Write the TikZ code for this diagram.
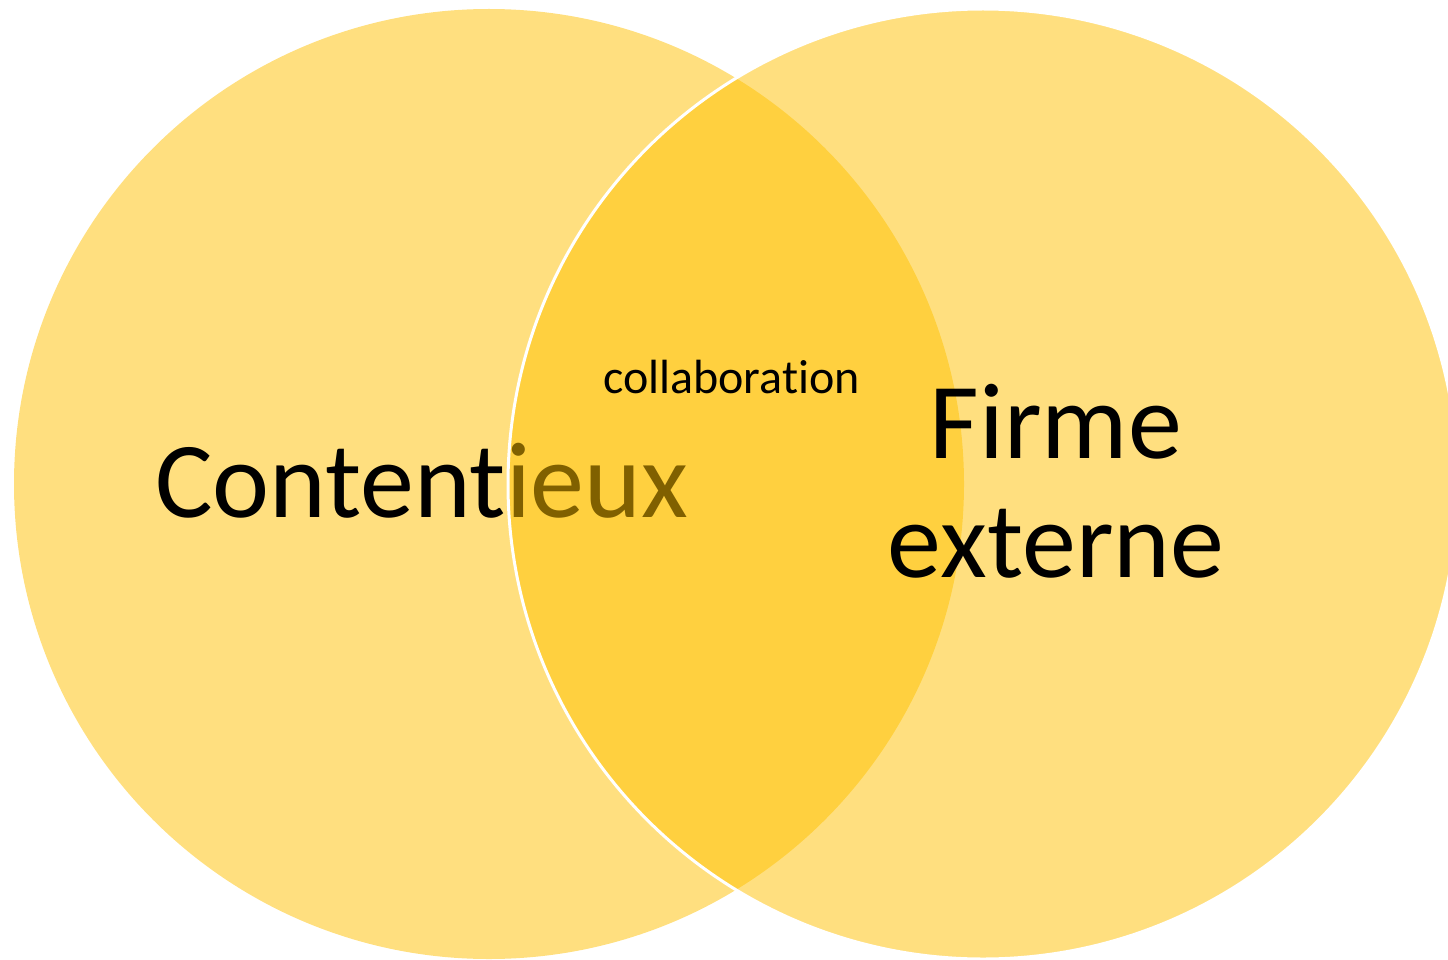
\documentclass[tikz,border=0pt]{standalone}
\usepackage{fontspec}
\setmainfont{Carlito}[Ligatures=NoCommon]
\definecolor{venngold}{RGB}{255,192,0}
\begin{document}
\begin{tikzpicture}[x=1pt,y=-1pt,
  set/.style={circle,fill=venngold,fill opacity=0.5,minimum size=950pt,inner sep=0pt},
  big/.style={font=\fontsize{108}{119}\selectfont,inner sep=0pt},
  small/.style={font=\fontsize{48}{58}\selectfont,inner sep=0pt}]
  \useasboundingbox (0,0) rectangle (1448,960);
  % left set
  \node[set] (lset) at (489,484) {};
  \node[big,anchor=base west] (cont) at (155,517) {Contentieux};
  % right set, over the text
  \node[set,draw=white,line width=3pt] (rset) at (983,484) {};
  \node[small,anchor=base west] (collab) at (603,393) {collaboration};
  \node[big,align=center,anchor=base] (firme) at (1056,577) {Firme\\externe};
\end{tikzpicture}
\end{document}
